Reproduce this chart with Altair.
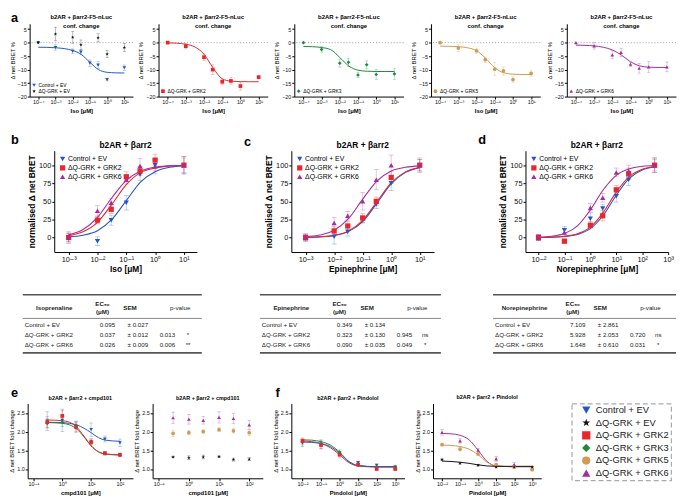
import altair as alt
import pandas as pd

FONT = "Liberation Sans"
STAR = ("M0,-1L0.235,-0.324L0.951,-0.309L0.38,0.124L0.588,0.809L0,0.4"
        "L-0.588,0.809L-0.38,0.124L-0.951,-0.309L-0.235,-0.324Z")

SERIES = ["Control + EV", "ΔQ-GRK + EV", "ΔQ-GRK + GRK2", "ΔQ-GRK + GRK3",
          "ΔQ-GRK + GRK5", "ΔQ-GRK + GRK6"]
COLORS = ["#2357c6", "#111111", "#e8262b", "#1a8a3c", "#cf9a52", "#a32c9e"]
SHAPES = ["triangle-down", STAR, "square", "diamond", "circle", "triangle-up"]
CMAP = dict(zip(SERIES, COLORS))
SMAP = dict(zip(SERIES, SHAPES))

# ---------------- panel a : conformational change (Iso) ----------------
XA = [1e-4, 1e-3, 1e-2, 3e-2, 1e-1, 3e-1, 1, 10]
A1_CTRL = [0, -1.8, -3.2, -3.5, -7.6, -8.3, -13.7, -9.3]
A1_CTRL_E = [0, 1.0, 0.9, 0.8, 1.2, 1.3, 0.5, 1.0]
A1_EV = [0, 3.2, 2.0, -0.8, None, 1.8, -4.2, -1.8]
A1_EV_E = [0, 2.5, 2.2, 1.8, 0, 1.5, 1.3, 1.5]
A2_GRK2 = [0, -1.3, -5.4, -10.0, -14.5, -14.2, -16.1, -12.8]
A2_GRK2_E = [0, 1.0, 1.2, 1.8, 1.0, 1.2, 1.5, 0.6]
A3_GRK3 = [0, -2.5, -7.6, -7.3, -12.0, -8.2, -11.8, -11.6]
A3_GRK3_E = [0, 1.0, 1.5, 1.5, 1.0, 1.5, 1.8, 2.0]
A4_GRK5 = [0, -2.0, -3.0, -6.3, -9.8, -10.5, -13.7, -11.4]
A4_GRK5_E = [0, 1.2, 1.0, 1.0, 2.5, 1.5, 1.0, 1.0]
A5_GRK6 = [0, -1.2, -4.5, -3.6, -8.0, -9.5, -9.0, -9.0]
A5_GRK6_E = [0, 1.2, 1.5, 1.5, 0.8, 1.8, 2.0, 1.8]
XA_FIT = [1e-4, 3.16e-4, 1e-3, 3.16e-3, 1e-2, 3.16e-2, 1e-1, 3.16e-1, 1, 3.16, 10]
A1_FIT = [-1.7, -1.75, -1.9, -2.2, -2.9, -4.4, -7.3, -10.0, -11.0, -11.2, -11.25]
A2_FIT = [-0.05, -0.2, -0.6, -1.6, -4.3, -9.4, -13.4, -14.3, -14.45, -14.5, -14.5]
A3_FIT = [-1.4, -1.5, -1.8, -2.6, -5.5, -8.7, -10.2, -10.6, -10.7, -10.7, -10.7]
A4_FIT = [-1.3, -1.35, -1.5, -1.9, -3.0, -5.8, -9.3, -11.2, -11.7, -11.8, -11.8]
A5_FIT = [-0.9, -1.0, -1.2, -1.7, -2.7, -4.6, -7.1, -8.6, -9.1, -9.2, -9.2]

# ---------------- panels b, c, d : normalised concentration response ----------------
XB = [1e-3, 1e-2, 3e-2, 1e-1, 3e-1, 1, 10]
B_CTRL = [0, -5, 24, 48, 87, 100, 100]
B_CTRL_E = [8, 6, 7, 10, 8, 8, 12]
B_GRK2 = [0, 24, 39, 84, 92, 107, 100]
B_GRK2_E = [6, 5, 6, 7, 6, 8, 10]
B_GRK6 = [0, 37, 48, 80, 99, 98, 100]
B_GRK6_E = [6, 7, 6, 6, 10, 10, 12]
XB_FIT = [1e-3, 3.16e-3, 1e-2, 3.16e-2, 1e-1, 3.16e-1, 1, 3.16, 10]
B_CTRL_FIT = [1.0, 3.2, 9.5, 25, 51, 77, 91, 97, 99]
B_GRK2_FIT = [2.6, 8, 21, 46, 73, 90, 96, 99, 100]
B_GRK6_FIT = [3.7, 11, 28, 55, 79, 92, 97.5, 99, 100]

C_CTRL = [0, 1, 8, 25, 46, 75, 100]
C_CTRL_E = [5, 10, 6, 5, 6, 10, 8]
C_GRK2 = [0, 9, 16, 27, 50, 83, 100]
C_GRK2_E = [5, 6, 6, 6, 6, 8, 8]
C_GRK6 = [0, 20, 30, 50, 80, 100, 100]
C_GRK6_E = [4, 8, 6, 12, 14, 14, 10]
C_CTRL_FIT = [0.3, 0.9, 2.8, 8.3, 22, 47.5, 74, 90, 96.6]
C_GRK2_FIT = [0.3, 1.0, 3.0, 8.9, 23.6, 49.5, 75.6, 90.7, 96.9]
C_GRK6_FIT = [1.1, 3.4, 10, 26, 53, 78, 92, 97, 99]

XD = [1e-2, 1e-1, 1, 3, 10, 30, 300]
D_CTRL = [0, 10, 26, 40, 57, 80, 100]
D_CTRL_E = [4, 5, 8, 6, 8, 8, 10]
D_GRK2 = [0, -5, 17, 30, 66, 88, 100]
D_GRK2_E = [4, 3, 5, 7, 6, 8, 8]
D_GRK6 = [0, 7, 41, 55, 90, 92, 100]
D_GRK6_E = [4, 5, 6, 6, 6, 8, 10]
XD_FIT = [1e-2, 3.16e-2, 1e-1, 3.16e-1, 1, 3.16, 10, 31.6, 100, 316]
D_CTRL_FIT = [0.14, 0.44, 1.4, 4.3, 12.3, 30.8, 58.5, 81.7, 93.4, 97.8]
D_GRK2_FIT = [0.17, 0.53, 1.7, 5.1, 14.4, 34.8, 62.8, 84.2, 94.4, 98.2]
D_GRK6_FIT = [0.6, 1.9, 5.7, 16, 38, 66, 86, 95, 98.4, 99.5]

# ---------------- tables ----------------
T_NAMES = ["Control + EV", "ΔQ-GRK + GRK2", "ΔQ-GRK + GRK6"]
T_ISO_EC50 = [0.095, 0.037, 0.026]
T_ISO_SEM = [0.027, 0.012, 0.009]
T_ISO_P = [None, 0.013, 0.006]
T_ISO_SIG = ["", "*", "**"]
T_EPI_EC50 = [0.349, 0.323, 0.090]
T_EPI_SEM = [0.134, 0.130, 0.035]
T_EPI_P = [None, 0.945, 0.049]
T_EPI_SIG = ["", "ns", "*"]
T_NOR_EC50 = [7.109, 5.928, 1.648]
T_NOR_SEM = [2.861, 2.053, 0.610]
T_NOR_P = [None, 0.720, 0.031]
T_NOR_SIG = ["", "ns", "*"]

# ---------------- panel e : cmpd101 ----------------
XE = [0.3, 1, 3, 10, 30, 100]
E1_CTRL = [2.28, 2.30, 2.13, 2.05, 1.80, 1.70]
E1_CTRL_E = [0.25, 0.30, 0.15, 0.18, 0.08, 0.10]
E1_GRK2 = [2.25, 2.42, 2.12, 1.72, 1.42, 1.38]
E1_GRK2_E = [0.15, 0.15, 0.12, 0.08, 0.05, 0.04]
E1_GRK3 = [2.22, 2.25, 2.17, 1.73, 1.42, 1.37]
E1_GRK3_E = [0.12, 0.12, 0.10, 0.08, 0.04, 0.04]
XE_FIT = [0.316, 1, 1.78, 3.16, 5.62, 10, 17.8, 31.6, 100]
E1_CTRL_FIT = [2.25, 2.24, 2.22, 2.18, 2.09, 1.97, 1.84, 1.77, 1.74]
E1_GRK2_FIT = [2.31, 2.29, 2.25, 2.12, 1.88, 1.62, 1.46, 1.40, 1.38]
E1_GRK3_FIT = [2.24, 2.22, 2.18, 2.07, 1.86, 1.62, 1.46, 1.40, 1.37]
E2_GRK6 = [2.37, 2.33, 2.30, 2.38, 2.35, 2.18]
E2_GRK6_E = [0.15, 0.13, 0.10, 0.15, 0.14, 0.12]
E2_GRK5 = [1.95, 1.97, 2.00, 2.05, 2.02, 1.97]
E2_GRK5_E = [0.08, 0.06, 0.05, 0.05, 0.06, 0.08]
E2_EV = [1.32, 1.30, 1.32, 1.33, 1.25, 1.26]
E2_EV_E = [0.02, 0.05, 0.05, 0.02, 0.04, 0.04]

# ---------------- panel f : Pindolol ----------------
XF = [0.01, 0.1, 1, 10, 100, 1000]
F1_CTRL = [1.70, 1.66, 1.42, 1.17, 1.10, 1.05]
F1_CTRL_E = [0.10, 0.12, 0.05, 0.03, 0.03, 0.03]
F1_GRK2 = [1.75, 1.64, 1.38, 1.12, 1.00, 1.00]
F1_GRK2_E = [0.08, 0.10, 0.08, 0.03, 0.03, 0.03]
F1_GRK3 = [1.72, 1.68, 1.45, 1.10, 1.05, 1.05]
F1_GRK3_E = [0.08, 0.08, 0.06, 0.03, 0.03, 0.03]
XF_FIT = [0.01, 0.0316, 0.1, 0.316, 1, 3.16, 10, 100, 1000]
F1_CTRL_FIT = [1.72, 1.71, 1.68, 1.60, 1.42, 1.20, 1.09, 1.06, 1.06]
F1_GRK2_FIT = [1.75, 1.73, 1.68, 1.57, 1.38, 1.17, 1.08, 1.05, 1.05]
F1_GRK3_FIT = [1.78, 1.77, 1.73, 1.64, 1.45, 1.20, 1.09, 1.06, 1.06]
F2_GRK6 = [1.98, 1.75, 1.50, 1.27, 1.12, 1.02]
F2_GRK6_E = [0.08, 0.06, 0.05, 0.06, 0.05, 0.04]
F2_GRK5 = [1.65, 1.53, 1.40, 1.12, 1.05, 0.98]
F2_GRK5_E = [0.03, 0.05, 0.04, 0.03, 0.03, 0.03]
F2_EV = [1.25, 1.15, 1.10, 1.05, 1.05, 1.05]
F2_EV_E = [0.02, 0.02, 0.02, 0.02, 0.02, 0.02]
F2_GRK6_FIT = [1.95, 1.94, 1.90, 1.78, 1.50, 1.20, 1.08, 1.06, 1.06]
F2_GRK5_FIT = [1.64, 1.63, 1.60, 1.53, 1.38, 1.18, 1.08, 1.06, 1.06]
F2_EV_FIT = [1.21, 1.20, 1.18, 1.15, 1.11, 1.08, 1.07, 1.07, 1.07]


def sup_expr():
    e = "format(round(log(datum.value)/LN10),'d')"
    for k, v in [('-', '⁻'), ('0', '⁰'), ('1', '¹'), ('2', '²'), ('3', '³'), ('4', '⁴')]:
        e = f"replace({e},'{k}','{v}')"
    return "'10' + " + e


SUP = sup_expr()


def spacer(w, h, letter=None, dx=0, offset=2, fs=13):
    c = alt.Chart(pd.DataFrame({"v": [0]})).mark_point(opacity=0, size=0).encode(
        x=alt.X("v:Q", axis=None), y=alt.Y("v:Q", axis=None))
    props = dict(width=w, height=h)
    if letter:
        props["title"] = alt.TitleParams(text=letter, anchor="start", fontSize=fs, fontWeight="bold",
                                         font=FONT, offset=offset, dx=dx)
    return c.properties(**props)


def dr_panel(xs, pts, fit_x, fits, *, width, height, xdom, ydom, xticks, yticks, title,
             title_fs, title_offset, xtitle, ytitle, ytitle_bold, lab_fs, ax_fs, msize, cap,
             legend=None, legend_series=None, zero=False, line_w=1.0):
    rows = []
    for name, ys, es in pts:
        for x, y, e in zip(xs, ys, es):
            if y is None:
                continue
            rows.append({"x": x, "y": y, "lo": y - e, "hi": y + e, "series": name, "err": e})
    df = pd.DataFrame(rows)
    xaxis = alt.Axis(values=xticks, labelExpr=SUP, labelFontSize=lab_fs, titleFontSize=ax_fs,
                     titleFontWeight="bold", tickSize=2.5, labelPadding=1, titlePadding=2,
                     labelOverlap=False, labelFlush=False)
    yaxis = alt.Axis(values=yticks, labelFontSize=lab_fs, titleFontSize=ax_fs,
                     titleFontWeight="bold" if ytitle_bold else "normal", tickSize=2.5,
                     labelPadding=1, titlePadding=2, labelOverlap=False)
    xs_ = alt.Scale(type="log", domain=xdom)
    ys_ = alt.Scale(domain=ydom, nice=False, zero=False)

    def X(f):
        return alt.X(f + ":Q", scale=xs_, axis=xaxis, title=xtitle)

    def Y(f):
        return alt.Y(f + ":Q", scale=ys_, axis=yaxis, title=ytitle)

    layers = []
    if zero:
        layers.append(alt.Chart(pd.DataFrame({"z": [0]})).mark_rule(
            color="#888", strokeDash=[1, 2], strokeWidth=0.8).encode(y=Y("z")))
    names = [p[0] for p in pts]
    for name in names:
        sub = df[(df.series == name) & (df.err > 0)]
        col = CMAP[name]
        layers.append(alt.Chart(sub).mark_rule(color=col, opacity=0.35, strokeWidth=0.8).encode(
            x=X("x"), y=Y("lo"), y2="hi:Q"))
        for f in ("lo", "hi"):
            layers.append(alt.Chart(sub).mark_tick(color=col, opacity=0.35, orient="horizontal",
                                                   size=cap, thickness=0.8).encode(x=X("x"), y=Y(f)))
    for name, ys in fits:
        cdf = pd.DataFrame({"x": fit_x, "y": ys})
        layers.append(alt.Chart(cdf).mark_line(color=CMAP[name], strokeWidth=line_w,
                                               interpolate="monotone").encode(x=X("x"), y=Y("y")))
    dom = legend_series if legend_series else names
    leg = legend if legend is not None else None
    layers.append(alt.Chart(df).mark_point(filled=True, size=msize, opacity=1).encode(
        x=X("x"), y=Y("y"),
        color=alt.Color("series:N", scale=alt.Scale(domain=dom, range=[CMAP[n] for n in dom]), legend=leg),
        shape=alt.Shape("series:N", scale=alt.Scale(domain=dom, range=[SMAP[n] for n in dom]), legend=leg)))
    ch = alt.layer(*layers).properties(
        width=width, height=height,
        title=alt.TitleParams(text=title, fontSize=title_fs, fontWeight="bold", font=FONT,
                              offset=title_offset, anchor="middle", lineHeight=title_fs * 1.45))
    return ch


def table_view(drug, ec50, sem, pv, sig, width, cols, fs=6.3):
    df = pd.DataFrame({"name": T_NAMES, "ec50": ec50, "sem": sem, "p": pv, "sig": sig})
    ysc = alt.Y("name:N", sort=T_NAMES, axis=None,
                scale=alt.Scale(type="point", range=[31, 52], padding=0))
    base = alt.Chart(df).encode(y=ysc)
    layers = [
        base.mark_text(align="left", fontSize=fs, color="#222").encode(x=alt.value(cols[0]), text="name:N"),
        base.mark_text(align="center", fontSize=fs, color="#222").encode(
            x=alt.value(cols[2]), text=alt.Text("ec50:Q", format=".3f")),
        base.transform_calculate(st="'± ' + format(datum.sem, '.3f')").mark_text(
            align="center", fontSize=fs, color="#222").encode(x=alt.value(cols[4]), text="st:N"),
        base.transform_calculate(pt="datum.p == null ? '' : format(datum.p, '.3f')").mark_text(
            align="center", fontSize=fs, color="#222").encode(x=alt.value(cols[6]), text="pt:N"),
        base.mark_text(align="center", fontSize=fs, color="#222").encode(x=alt.value(cols[7]), text="sig:N"),
    ]
    hdr = pd.DataFrame({"t": [drug]})
    layers.append(alt.Chart(hdr).mark_text(align="center", fontSize=fs, fontWeight="bold", color="#222").encode(
        x=alt.value(cols[1]), y=alt.value(13.5), text="t:N"))
    layers.append(alt.Chart(hdr).mark_text(align="center", fontSize=fs, fontWeight="bold", color="#222").encode(
        x=alt.value(cols[3]), y=alt.value(10), text=alt.value("EC₅₀")))
    layers.append(alt.Chart(hdr).mark_text(align="center", fontSize=fs, fontWeight="bold", color="#222").encode(
        x=alt.value(cols[3]), y=alt.value(18), text=alt.value("(μM)")))
    layers.append(alt.Chart(hdr).mark_text(align="center", fontSize=fs, fontWeight="bold", color="#222").encode(
        x=alt.value(cols[5]), y=alt.value(13.5), text=alt.value("SEM")))
    layers.append(alt.Chart(hdr).mark_text(align="center", fontSize=fs, color="#222").encode(
        x=alt.value(cols[8]), y=alt.value(13.5), text=alt.value("p-value")))
    for yy, sw in [(0.5, 1.6), (24.5, 0.7), (59.5, 1.6)]:
        layers.append(alt.Chart(hdr).mark_rule(color="#555", strokeWidth=sw).encode(
            x=alt.value(0), x2=alt.value(width), y=alt.value(yy)))
    return alt.layer(*layers).properties(width=width, height=60)


def row(items):
    return alt.hconcat(*items, spacing=0, bounds="flush").resolve_scale(
        color="independent", shape="independent", x="independent", y="independent").resolve_legend(
        color="independent", shape="independent")


# ---------- row a ----------
HA = 74
A_COMMON = dict(width=111, height=HA, xdom=[10 ** -4.5, 10 ** 1.5], ydom=[-20, 7],
                xticks=[1e-4, 1e-3, 1e-2, 1e-1, 1, 10], yticks=[5, 0, -5, -10, -15, -20],
                title=["b2AR + βarr2-F5-nLuc", "conf. change"], title_fs=6, title_offset=-5,
                xtitle="Iso [μM]", ytitle="Δ net BRET %", ytitle_bold=False, lab_fs=5.5, ax_fs=6,
                msize=14, cap=3, zero=True, line_w=1.0)


def a_legend():
    return alt.Legend(title=None, orient="bottom-left", offset=2, labelFontSize=5, symbolSize=14,
                      rowPadding=0, padding=0, labelOffset=2, symbolStrokeWidth=0, labelFont=FONT)


a1 = dr_panel(XA, [("Control + EV", A1_CTRL, A1_CTRL_E), ("ΔQ-GRK + EV", A1_EV, A1_EV_E)],
              XA_FIT, [("Control + EV", A1_FIT)], legend=a_legend(), **{**A_COMMON, "width": 105})
a2 = dr_panel(XA, [("ΔQ-GRK + GRK2", A2_GRK2, A2_GRK2_E)], XA_FIT, [("ΔQ-GRK + GRK2", A2_FIT)],
              legend=a_legend(), **A_COMMON)
a3 = dr_panel(XA, [("ΔQ-GRK + GRK3", A3_GRK3, A3_GRK3_E)], XA_FIT, [("ΔQ-GRK + GRK3", A3_FIT)],
              legend=a_legend(), **A_COMMON)
a4 = dr_panel(XA, [("ΔQ-GRK + GRK5", A4_GRK5, A4_GRK5_E)], XA_FIT, [("ΔQ-GRK + GRK5", A4_FIT)],
              legend=a_legend(), **A_COMMON)
a5 = dr_panel(XA, [("ΔQ-GRK + GRK6", A5_GRK6, A5_GRK6_E)], XA_FIT, [("ΔQ-GRK + GRK6", A5_FIT)],
              legend=a_legend(), **A_COMMON)

rowA = row([spacer(19, HA, "a", offset=-1), a1, spacer(26, HA), a2, spacer(27, HA), a3,
            spacer(28, HA), a4, spacer(27, HA), a5])

# ---------- row b/c/d ----------
HB = 103
B_COMMON = dict(width=145, height=HB, ydom=[-20, 120], yticks=[0, 25, 50, 75, 100],
                title="b2AR + βarr2", title_fs=8.5, title_offset=1,
                ytitle="normalised Δ net BRET", ytitle_bold=True, lab_fs=7.5, ax_fs=8.5,
                msize=28, cap=5, line_w=1.1)


def b_legend():
    return alt.Legend(title=None, orient="top-left", offset=5, labelFontSize=7, symbolSize=28,
                      rowPadding=1, padding=0, labelOffset=2, symbolStrokeWidth=0, labelFont=FONT)


bpts = [("Control + EV", B_CTRL, B_CTRL_E), ("ΔQ-GRK + GRK2", B_GRK2, B_GRK2_E),
        ("ΔQ-GRK + GRK6", B_GRK6, B_GRK6_E)]
bfit = [("Control + EV", B_CTRL_FIT), ("ΔQ-GRK + GRK2", B_GRK2_FIT), ("ΔQ-GRK + GRK6", B_GRK6_FIT)]
pb = dr_panel(XB, bpts, XB_FIT, bfit, xdom=[10 ** -3.5, 10 ** 1.45], xticks=[1e-3, 1e-2, 1e-1, 1, 10],
              xtitle="Iso [μM]", legend=b_legend(), **B_COMMON)
cpts = [("Control + EV", C_CTRL, C_CTRL_E), ("ΔQ-GRK + GRK2", C_GRK2, C_GRK2_E),
        ("ΔQ-GRK + GRK6", C_GRK6, C_GRK6_E)]
cfit = [("Control + EV", C_CTRL_FIT), ("ΔQ-GRK + GRK2", C_GRK2_FIT), ("ΔQ-GRK + GRK6", C_GRK6_FIT)]
pc = dr_panel(XB, cpts, XB_FIT, cfit, xdom=[10 ** -3.5, 10 ** 1.5], xticks=[1e-3, 1e-2, 1e-1, 1, 10],
              xtitle="Epinephrine [μM]", legend=b_legend(), **B_COMMON)
dpts = [("Control + EV", D_CTRL, D_CTRL_E), ("ΔQ-GRK + GRK2", D_GRK2, D_GRK2_E),
        ("ΔQ-GRK + GRK6", D_GRK6, D_GRK6_E)]
dfit = [("Control + EV", D_CTRL_FIT), ("ΔQ-GRK + GRK2", D_GRK2_FIT), ("ΔQ-GRK + GRK6", D_GRK6_FIT)]
pd_ = dr_panel(XD, dpts, XD_FIT, dfit, xdom=[10 ** -2.5, 10 ** 3], xticks=[1e-2, 1e-1, 1, 10, 100, 1000],
               xtitle="Norepinephrine [μM]", legend=b_legend(), **B_COMMON)

rowB = row([spacer(44, HB, "b", offset=4), pb, spacer(96, HB, "c", dx=48, offset=2), pc,
            spacer(93, HB, "d", dx=45, offset=4), pd_])

# ---------- tables ----------
HT = 60
COLS = [2, 32, 86, 81, 117, 109, 147, 168, 160]
tb = table_view("Isoprenaline", T_ISO_EC50, T_ISO_SEM, T_ISO_P, T_ISO_SIG, 182, COLS)
tc = table_view("Epinephrine", T_EPI_EC50, T_EPI_SEM, T_EPI_P, T_EPI_SIG, 184, COLS)
td = table_view("Norepinephrine", T_NOR_EC50, T_NOR_SEM, T_NOR_P, T_NOR_SIG, 186, COLS)
rowT = row([spacer(12, HT), tb, spacer(59, HT), tc, spacer(53, HT), td])

# ---------- row e/f ----------
HE = 76
E_COMMON = dict(height=HE, ydom=[0.75, 2.75], yticks=[1.0, 1.5, 2.0, 2.5], title_fs=5.5, title_offset=2,
                ytitle="Δ net BRET fold change", ytitle_bold=False, lab_fs=5.5, ax_fs=6,
                msize=14, cap=3.5, line_w=1.0)
e1 = dr_panel(XE, [("Control + EV", E1_CTRL, E1_CTRL_E), ("ΔQ-GRK + GRK3", E1_GRK3, E1_GRK3_E),
                   ("ΔQ-GRK + GRK2", E1_GRK2, E1_GRK2_E)], XE_FIT,
              [("Control + EV", E1_CTRL_FIT), ("ΔQ-GRK + GRK3", E1_GRK3_FIT), ("ΔQ-GRK + GRK2", E1_GRK2_FIT)],
              width=107, xdom=[10 ** -1.2, 10 ** 2.45], xticks=[0.1, 1, 10, 100],
              title="b2AR + βarr2 + cmpd101", xtitle="cmpd101 [μM]", **E_COMMON)
e2 = dr_panel(XE, [("ΔQ-GRK + GRK6", E2_GRK6, E2_GRK6_E), ("ΔQ-GRK + GRK5", E2_GRK5, E2_GRK5_E),
                   ("ΔQ-GRK + EV", E2_EV, E2_EV_E)], XE_FIT, [],
              width=112, xdom=[10 ** -1.2, 10 ** 2.45], xticks=[0.1, 1, 10, 100],
              title="b2AR + βarr2 + cmpd101", xtitle="cmpd101 [μM]", **E_COMMON)
f1 = dr_panel(XF, [("Control + EV", F1_CTRL, F1_CTRL_E), ("ΔQ-GRK + GRK3", F1_GRK3, F1_GRK3_E),
                   ("ΔQ-GRK + GRK2", F1_GRK2, F1_GRK2_E)], XF_FIT,
              [("ΔQ-GRK + GRK3", F1_GRK3_FIT), ("ΔQ-GRK + GRK2", F1_GRK2_FIT), ("Control + EV", F1_CTRL_FIT)],
              width=115, xdom=[10 ** -2.6, 10 ** 3.5], xticks=[0.01, 0.1, 1, 10, 100, 1000],
              title="b2AR + βarr2 + Pindolol", xtitle="Pindolol [μM]", **E_COMMON)
box_legend = alt.Legend(title=None, orient="none", legendX=141, legendY=0, labelFontSize=9.5,
                        symbolSize=70, rowPadding=1.8, padding=2, symbolOffset=8, labelOffset=5,
                        symbolStrokeWidth=0, strokeColor="#aaaaaa", labelFont=FONT, labelColor="#222",
                        labelExpr="datum.label + '\u00a0\u00a0\u00a0\u00a0\u00a0'")
f2 = dr_panel(XF, [("ΔQ-GRK + GRK6", F2_GRK6, F2_GRK6_E), ("ΔQ-GRK + GRK5", F2_GRK5, F2_GRK5_E),
                   ("ΔQ-GRK + EV", F2_EV, F2_EV_E)], XF_FIT,
              [("ΔQ-GRK + GRK6", F2_GRK6_FIT), ("ΔQ-GRK + GRK5", F2_GRK5_FIT), ("ΔQ-GRK + EV", F2_EV_FIT)],
              width=110, xdom=[10 ** -2.5, 10 ** 3.5], xticks=[0.01, 0.1, 1, 10, 100, 1000],
              title="b2AR + βarr2 + Pindolol", xtitle="Pindolol [μM]", legend=box_legend,
              legend_series=SERIES, **E_COMMON)

rowE = row([spacer(17, HE, "e", offset=4), e1, spacer(20, HE), e2, spacer(29, HE, "f", dx=13, offset=4), f1,
            spacer(29, HE), f2])

chart = alt.vconcat(
    rowA, spacer(1, 21), rowB, spacer(1, 20), rowT, spacer(1, 33), rowE,
    spacing=0
).resolve_scale(color="independent", shape="independent").resolve_legend(
    color="independent", shape="independent"
).properties(padding={"left": 0, "top": 0, "right": 0, "bottom": 0}).configure_view(
    stroke=None
).configure_axis(
    grid=False, domainColor="#000", tickColor="#000", labelColor="#111", titleColor="#000",
    labelFont=FONT, titleFont=FONT, domainWidth=1, tickWidth=1
).configure_title(font=FONT, color="#000").configure_legend(
    labelFont=FONT, strokeDash=[5, 3], strokeWidth=1.2
).configure_text(font=FONT)

chart.save("out.html", embed_options={"renderer": "svg", "actions": False})
